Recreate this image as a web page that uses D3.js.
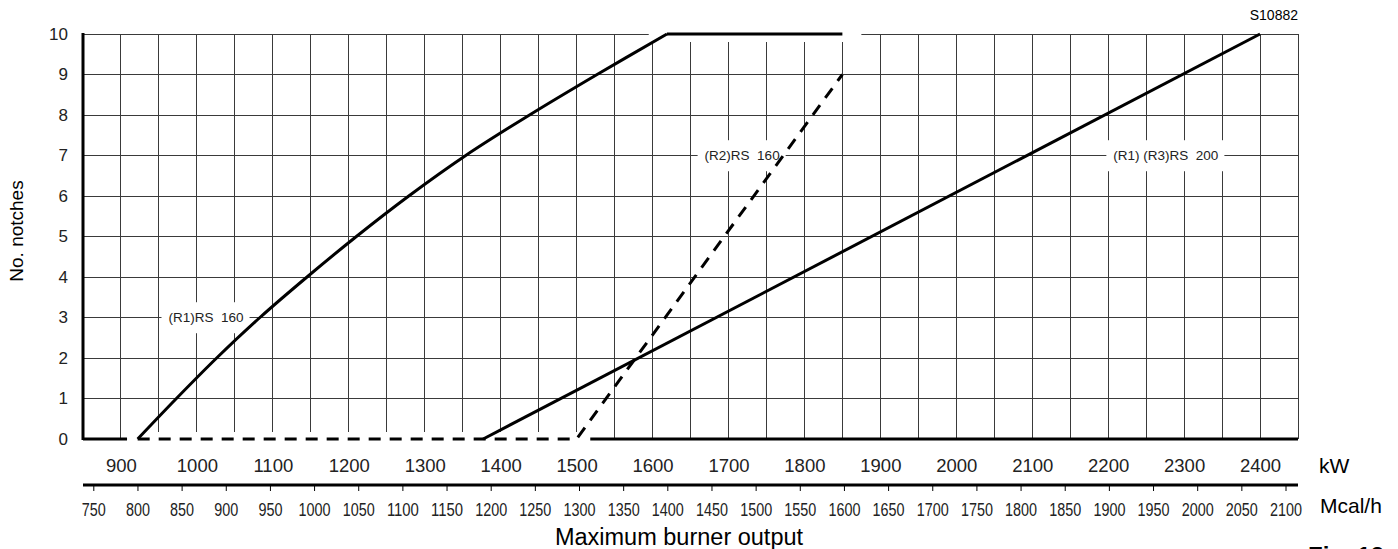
<!DOCTYPE html>
<html>
<head>
<meta charset="utf-8">
<script src="https://cdn.jsdelivr.net/npm/d3@7"></script>
<style>
  body { margin: 0; background: #fff; }
  svg { display: block; font-family: "Liberation Sans", Arial, sans-serif; }
  .grid line { stroke: #3a3a3a; stroke-width: 1; shape-rendering: crispEdges; }
  .tick-kw text { font-size: 18.5px; fill: #222; }
  .tick-mcal text { font-size: 18px; fill: #222; }
  .tick-y text { font-size: 17px; fill: #222; }
  .curve { fill: none; stroke: #000; stroke-width: 3; }
</style>
</head>
<body>
<div id="chart"></div>
<script>
// tick labels
var notchLabels = [0, 1, 2, 3, 4, 5, 6, 7, 8, 9, 10];
var kwLabels = [900, 1000, 1100, 1200, 1300, 1400, 1500, 1600, 1700, 1800, 1900, 2000, 2100, 2200, 2300, 2400];
var mcalLabels = [750, 800, 850, 900, 950, 1000, 1050, 1100, 1150, 1200, 1250, 1300, 1350, 1400, 1450,
                  1500, 1550, 1600, 1650, 1700, 1750, 1800, 1850, 1900, 1950, 2000, 2050, 2100];
var kwGrid = [900, 950, 1000, 1050, 1100, 1150, 1200, 1250, 1300, 1350, 1400, 1450, 1500, 1550, 1600, 1650,
              1700, 1750, 1800, 1850, 1900, 1950, 2000, 2050, 2100, 2150, 2200, 2250, 2300, 2350, 2400];

// (R1)RS 160 curve (kW, notches) + its flat top
var r1rs160Kw    = [922, 973, 1026, 1083, 1145, 1210, 1279, 1354, 1438, 1527, 1619];
var r1rs160Notch = [0, 1, 2, 3, 4, 5, 6, 7, 8, 9, 10];
var r1rs160TopKw = [1619, 1850];

// (R2)RS 160 dashed
var r2rs160Kw    = [922, 1500, 1850];
var r2rs160Notch = [0, 0, 9];

// (R1)(R3)RS 200
var rs200Kw    = [1377, 2400];
var rs200Notch = [0, 10];

// solid parts of the base line
var baseSolidKw = [[850, 908], [1518, 2450]];

// curve labels: text, kW, notch
var labelText  = ["(R1)RS  160", "(R2)RS  160", "(R1) (R3)RS  200"];
var labelKw    = [1012, 1718, 2276];
var labelNotch = [3, 7, 7];

var W = 1398, H = 549;
var margin = {top: 34, right: 100, bottom: 110, left: 83};

var svg = d3.select("#chart").append("svg")
    .attr("width", W)
    .attr("height", H);

var x = d3.scaleLinear().domain([850, 2450]).range([margin.left, 1298]);
var y = d3.scaleLinear().domain([0, 10]).range([439, margin.top]);
// Mcal/h scale
var xm = d3.scaleLinear().domain([750, 2100]).range([93.3, 1285.5]);

var line = d3.line()
    .x(function (d) { return x(d[0]); })
    .y(function (d) { return y(d[1]); });

// grid
var grid = svg.append("g").attr("class", "grid");
grid.selectAll(".v")
    .data(kwGrid)
    .enter().append("line")
    .attr("x1", function (d) { return x(d); })
    .attr("x2", function (d) { return x(d); })
    .attr("y1", y(10))
    .attr("y2", y(0));
grid.selectAll(".h")
    .data(notchLabels.slice(1))
    .enter().append("line")
    .attr("x1", x(850))
    .attr("x2", x(2450))
    .attr("y1", function (d) { return y(d); })
    .attr("y2", function (d) { return y(d); });
grid.append("line")
    .attr("x1", x(2450)).attr("x2", x(2450))
    .attr("y1", y(10)).attr("y2", y(0));

// white breaks along the flat top and the dashed base
svg.append("path")
    .attr("d", line([[r1rs160TopKw[0] - 24, 10], [r1rs160TopKw[1] + 25, 10]]))
    .attr("stroke", "#fff").attr("stroke-width", 16);
svg.append("path")
    .attr("d", line([[baseSolidKw[0][1], 0], [baseSolidKw[1][0], 0]]))
    .attr("stroke", "#fff").attr("stroke-width", 14);

// label boxes
var labels = svg.append("g");
labelText.forEach(function (t, i) {
    var g = labels.append("g");
    var rect = g.append("rect").attr("fill", "#fff");
    var txt = g.append("text")
        .attr("x", x(labelKw[i]))
        .attr("y", y(labelNotch[i]))
        .attr("dy", "0.35em")
        .attr("text-anchor", "middle")
        .style("font-size", "13.5px")
        .style("white-space", "pre")
        .attr("fill", "#222")
        .text(t);
    var b = txt.node().getBBox();
    rect.attr("x", b.x - 7).attr("y", b.y - 8)
        .attr("width", b.width + 13).attr("height", b.height + 16);
});

// left axis line + base line
svg.append("line")
    .attr("x1", x(850)).attr("x2", x(850))
    .attr("y1", y(10) - 1).attr("y2", y(0) + 1)
    .attr("stroke", "#000").attr("stroke-width", 3);
svg.selectAll(".base")
    .data(baseSolidKw)
    .enter().append("path")
    .attr("class", "curve")
    .attr("d", function (d) { return line([[d[0], 0], [d[1], 0]]); });

// curves
svg.append("path")
    .attr("class", "curve")
    .attr("d", line.curve(d3.curveCatmullRom)(r1rs160Kw.map(function (k, i) { return [k, r1rs160Notch[i]]; })));
line.curve(d3.curveLinear);
svg.append("path")
    .attr("class", "curve")
    .attr("d", line(r1rs160TopKw.map(function (k) { return [k, 10]; })));
svg.append("path")
    .attr("class", "curve")
    .attr("stroke-dasharray", "12,9")
    .attr("d", line(r2rs160Kw.map(function (k, i) { return [k, r2rs160Notch[i]]; })));
svg.append("path")
    .attr("class", "curve")
    .attr("d", line(rs200Kw.map(function (k, i) { return [k, rs200Notch[i]]; })));

// y axis labels
svg.append("g")
    .attr("class", "tick-y")
    .attr("transform", "translate(" + x(850) + ",0)")
    .call(d3.axisLeft(y).tickValues(notchLabels).tickFormat(d3.format("d")).tickSize(0).tickPadding(15))
    .call(function (g) { g.select(".domain").remove(); });

// kW labels
svg.append("g")
    .attr("class", "tick-kw")
    .attr("transform", "translate(0,453)")
    .call(d3.axisBottom(x).tickValues(kwLabels).tickFormat(d3.format("d")).tickSize(0).tickPadding(6))
    .call(function (g) { g.select(".domain").remove(); });

// Mcal/h axis
svg.append("line")
    .attr("x1", x(850)).attr("x2", x(2450))
    .attr("y1", 485).attr("y2", 485)
    .attr("stroke", "#000").attr("stroke-width", 3);
svg.append("g")
    .attr("class", "tick-mcal")
    .attr("transform", "translate(0,485)")
    .call(d3.axisBottom(xm).tickValues(mcalLabels).tickFormat(d3.format("d")).tickSize(6).tickSizeOuter(0).tickPadding(12))
    .call(function (g) { g.select(".domain").remove(); })
    .call(function (g) { g.selectAll(".tick line").attr("stroke", "#000"); })
    .call(function (g) {
        // narrow digits like the printed scale
        g.selectAll(".tick text")
            .attr("textLength", function (d) { return String(d).length * 8; })
            .attr("lengthAdjust", "spacingAndGlyphs");
    });

// titles
svg.append("text")
    .attr("transform", "translate(23," + 231 + ") rotate(-90)")
    .attr("text-anchor", "middle")
    .style("font-size", "19px")
    .text("No. notches");
svg.append("text")
    .attr("x", 679).attr("y", 545)
    .attr("text-anchor", "middle")
    .style("font-size", "23.5px")
    .text("Maximum burner output");
svg.append("text")
    .attr("x", 1319).attr("y", 473)
    .style("font-size", "21px")
    .text("kW");
svg.append("text")
    .attr("x", 1320).attr("y", 513)
    .style("font-size", "21px")
    .text("Mcal/h");
svg.append("text")
    .attr("x", 1298).attr("y", 20)
    .attr("text-anchor", "end")
    .style("font-size", "14px")
    .text("S10882");
svg.append("text")
    .attr("x", 1308).attr("y", 564)
    .style("font-size", "24px")
    .style("font-weight", "bold")
    .text("Fig. 13");
</script>
</body>
</html>
